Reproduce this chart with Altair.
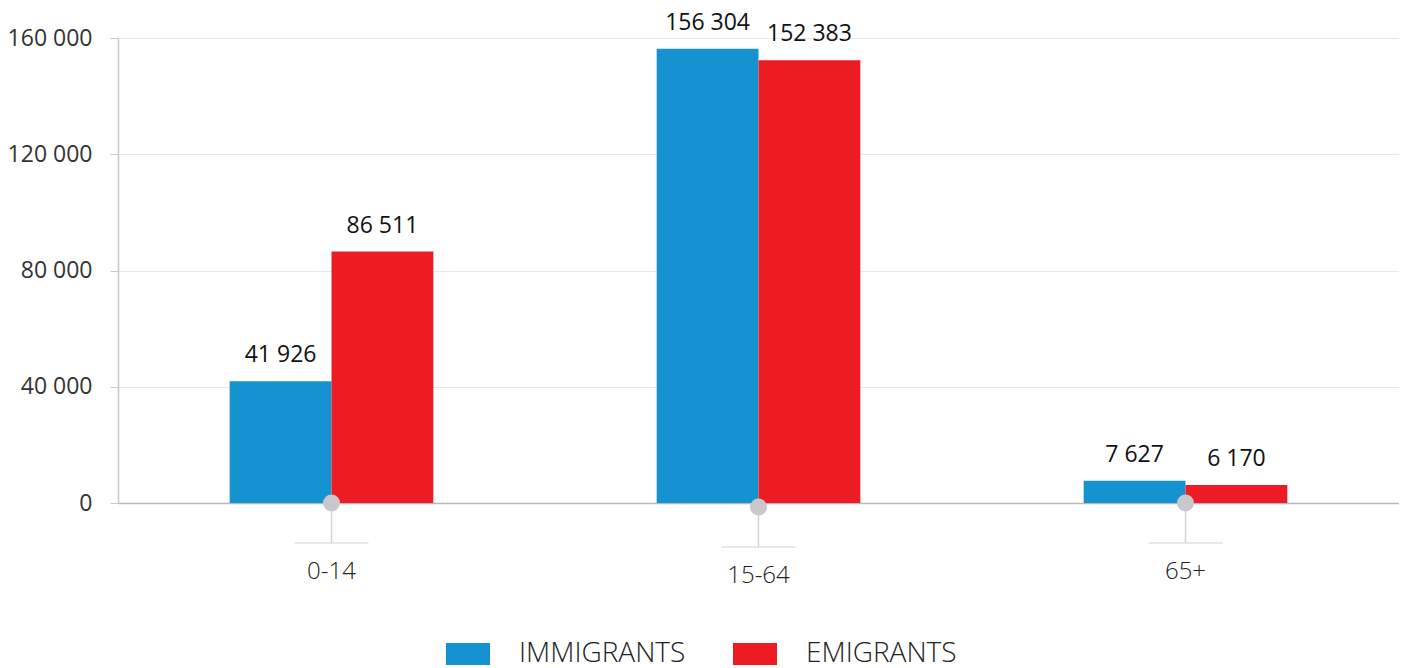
import altair as alt
import pandas as pd

categories = ["0-14", "15-64", "65+"]
series = ["IMMIGRANTS", "EMIGRANTS"]
immigrants = [41926, 156304, 7627]
emigrants = [86511, 152383, 6170]
y_ticks = [0, 40000, 80000, 120000, 160000]
colors = ["#1592d0", "#ed1c24"]

rows = []
for c, i, e in zip(categories, immigrants, emigrants):
    rows.append({"cat": c, "series": series[0], "value": i})
    rows.append({"cat": c, "series": series[1], "value": e})
df = pd.DataFrame(rows)
df["label"] = df["value"].map(lambda v: f"{v:,}".replace(",", " "))
deco = pd.DataFrame({"cat": categories})

W, H = 1281, 465
FONT = "Open Sans"

xscale = alt.Scale(domain=categories, paddingInner=0.523, paddingOuter=0.2615)
xoff = alt.XOffset("series:N", scale=alt.Scale(domain=series, paddingInner=0, paddingOuter=0))
yscale = alt.Scale(domain=[0, 160000], nice=False)

x_axis = alt.Axis(
    title=None, labelAngle=0, ticks=False, domainColor="#b8b8b8", domainWidth=1.5,
    labelFont=FONT, labelFontSize=24, labelFontWeight=300, labelColor="#222",
    labelPadding={"condition": {"test": "datum.value === '15-64'", "value": 60}, "value": 56},
    grid=False,
)
y_axis = alt.Axis(
    title=None, values=y_ticks, labelExpr="replace(format(datum.value, ','), ',', ' ')",
    labelFont=FONT, labelFontSize=23, labelColor="#333", labelPadding=18,
    tickSize=8, tickColor="#c8c8c8", domainColor="#c8c8c8", domainWidth=1.5,
    gridColor="#e8e8e8", gridWidth=1,
)

X = alt.X("cat:N", scale=xscale, sort=categories)

base = alt.Chart(df)
bars = base.mark_bar().encode(
    x=alt.X("cat:N", scale=xscale, sort=categories, axis=x_axis),
    xOffset=xoff,
    y=alt.Y("value:Q", scale=yscale, axis=y_axis),
    color=alt.Color(
        "series:N",
        scale=alt.Scale(domain=series, range=colors),
        legend=alt.Legend(
            title=None, orient="none", legendX=325, legendY=602, direction="horizontal",
            symbolType="M-1,-1H3V1H-1Z", symbolSize=484, symbolOpacity=1,
            symbolStrokeWidth=0, labelOffset=48, columnPadding=44,
            labelFont=FONT, labelFontSize=28, labelFontWeight=300, labelColor="#222",
            labelLimit=400,
        ),
    ),
)

text = base.mark_text(dy=-26, font=FONT, fontSize=23, color="#111").encode(
    x=X,
    xOffset=xoff,
    y=alt.Y("value:Q", scale=yscale, axis=None),
    text="label:N",
)

dbase = alt.Chart(deco).transform_calculate(
    shift="datum.cat === '15-64' ? 4 : 0"
).transform_calculate(
    ya="465 + datum.shift", yb="505 + datum.shift"
)
vline = dbase.mark_rule(color="#d4d4d4", strokeWidth=1.5).encode(
    x=X,
    y=alt.Y("ya:Q", scale=None, axis=None),
    y2="yb:Q",
)
hline = dbase.mark_tick(color="#d4d4d4", orient="horizontal", size=74, thickness=1.5).encode(
    x=X,
    y=alt.Y("yb:Q", scale=None, axis=None),
)
dot = dbase.mark_circle(color="#c8c8cc", size=289, opacity=1).encode(
    x=X,
    y=alt.Y("ya:Q", scale=None, axis=None),
)

chart = alt.layer(bars, text, vline, hline, dot).resolve_scale(y="independent").properties(
    width=W, height=H,
    autosize=alt.AutoSizeParams(type="none"),
    padding={"left": 110, "top": 30, "right": 0, "bottom": 165},
).configure_view(stroke=None)

chart.save("out.html", embed_options={"renderer": "svg", "actions": False})
